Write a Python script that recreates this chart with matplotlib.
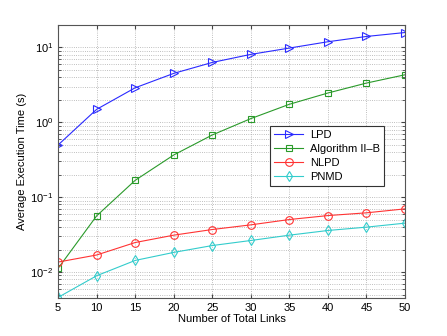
import matplotlib
matplotlib.use("Agg")
import matplotlib.pyplot as plt
from matplotlib.ticker import LogLocator, NullFormatter

plt.rcParams['font.family'] = ['Liberation Sans', 'DejaVu Sans']

links = [5, 10, 15, 20, 25, 30, 35, 40, 45, 50]
lpd = [0.498, 1.49, 2.89, 4.5, 6.3, 8.07, 9.8, 11.9, 14.0, 15.8]
alg2b = [0.0112, 0.0563, 0.168, 0.366, 0.677, 1.12, 1.74, 2.46, 3.34, 4.31]
nlpd = [0.0136, 0.0169, 0.0248, 0.0311, 0.037, 0.0427, 0.0503, 0.0568, 0.0618, 0.0698]
pnmd = [0.00459, 0.00893, 0.0143, 0.0183, 0.0226, 0.0264, 0.0311, 0.0359, 0.0398, 0.045]
xticks = [5, 10, 15, 20, 25, 30, 35, 40, 45, 50]

fig = plt.figure(figsize=(4.47, 3.36), dpi=100)
ax = fig.add_axes([0.130, 0.113, 0.776, 0.813])

kw = dict(linewidth=0.8, markersize=5.5, markerfacecolor='none', markeredgewidth=0.8)
ax.semilogy(links, lpd, '>-', color='#2a2aff', label='LPD', **kw)
ax.semilogy(links, alg2b, 's-', color='#2a9a2a', label='Algorithm II\u2013B', markersize=4.5,
            linewidth=0.8, markerfacecolor='none', markeredgewidth=0.8)
ax.semilogy(links, nlpd, 'o-', color='#ff3333', label='NLPD', **kw)
ax.semilogy(links, pnmd, 'd-', color='#33cccc', label='PNMD', **kw)

ax.set_xlim(5, 50)
ax.set_ylim(0.0045, 20)
ax.set_xticks(xticks)
ax.yaxis.set_major_locator(LogLocator(base=10, numticks=10))
ax.yaxis.set_minor_locator(LogLocator(base=10, subs=range(2, 10), numticks=20))
ax.yaxis.set_minor_formatter(NullFormatter())

ax.grid(True, which='major', linestyle=':', color='#aaaaaa', linewidth=0.6)
ax.grid(True, which='minor', axis='y', linestyle=':', color='#aaaaaa', linewidth=0.6)
ax.tick_params(which='both', direction='in', top=True, right=True, labelsize=8, color='#444444')
ax.tick_params(which='major', length=3)
ax.tick_params(which='minor', length=2)
for s in ax.spines.values():
    s.set_color('#555555')
    s.set_linewidth(0.8)

ax.set_xlabel('Number of Total Links', fontsize=8, labelpad=1)
ax.set_ylabel('Average Execution Time (s)', fontsize=8, labelpad=2)

leg = ax.legend(loc='upper left', bbox_to_anchor=(0.611, 0.630), borderaxespad=0, fontsize=8,
                fancybox=False, framealpha=1, edgecolor='#333333', handlelength=2.6,
                borderpad=0.4, labelspacing=0.35, handletextpad=0.6)
leg.get_frame().set_linewidth(0.8)

fig.savefig('out.png', dpi=100)
